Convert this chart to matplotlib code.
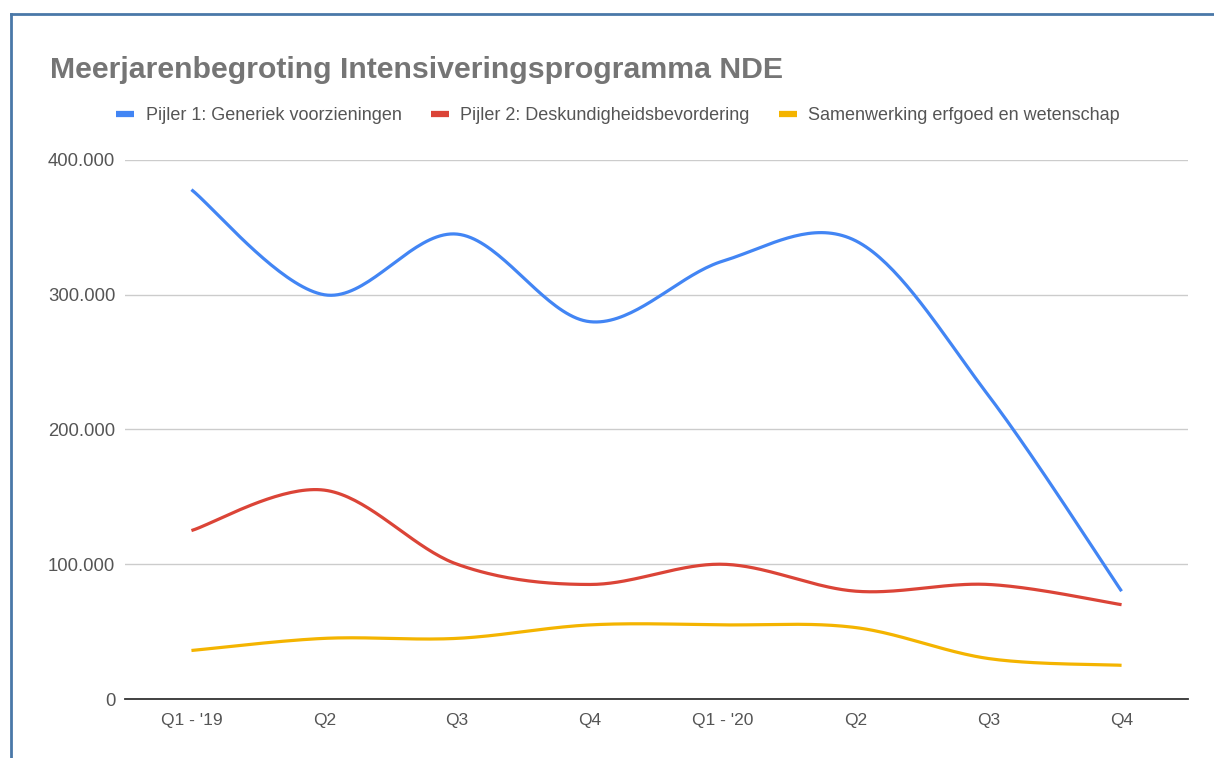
import numpy as np
import matplotlib
matplotlib.use('Agg')
from matplotlib import pyplot as plt
from matplotlib.lines import Line2D
from matplotlib.ticker import FuncFormatter

plt.rcParams['font.family'] = ['Liberation Sans', 'DejaVu Sans']

# data
quarters = ["Q1 - '19", 'Q2', 'Q3', 'Q4', "Q1 - '20", 'Q2', 'Q3', 'Q4']
pijler1 = [378000, 300000, 345000, 280000, 325000, 340000, 225000, 80000]
pijler2 = [125000, 155000, 100000, 85000, 100000, 80000, 85000, 70000]
samenwerking = [36000, 45000, 45000, 55000, 55000, 53000, 30000, 25000]
series_names = ['Pijler 1: Generiek voorzieningen',
                'Pijler 2: Deskundigheidsbevordering',
                'Samenwerking erfgoed en wetenschap']
colors = ['#4285f4', '#db4437', '#f4b400']


def smooth(y, n=40):
    # catmull-rom style cubic bezier through the points
    y = np.asarray(y, dtype=float)
    x = np.arange(len(y), dtype=float)
    xs, ys = [], []
    t = np.linspace(0, 1, n)
    for i in range(len(y) - 1):
        p0 = (x[i], y[i])
        p3 = (x[i + 1], y[i + 1])
        prev = (x[max(i - 1, 0)], y[max(i - 1, 0)])
        nxt = (x[min(i + 2, len(y) - 1)], y[min(i + 2, len(y) - 1)])
        c1 = (p0[0] + (p3[0] - prev[0]) / 6, p0[1] + (p3[1] - prev[1]) / 6)
        c2 = (p3[0] - (nxt[0] - p0[0]) / 6, p3[1] - (nxt[1] - p0[1]) / 6)
        for k in range(2):
            b = ((1 - t) ** 3 * p0[k] + 3 * (1 - t) ** 2 * t * c1[k]
                 + 3 * (1 - t) * t ** 2 * c2[k] + t ** 3 * p3[k])
            (xs if k == 0 else ys).append(b)
    return np.concatenate(xs), np.concatenate(ys)


fig = plt.figure(figsize=(12.14, 7.58), dpi=100)
ax = fig.add_axes([125 / 1214, 1 - 699 / 758, (1188 - 125) / 1214, (699 - 160) / 758])

for vals, c in zip([pijler1, pijler2, samenwerking], colors):
    sx, sy = smooth(vals)
    ax.plot(sx, sy, color=c, lw=2.3, solid_capstyle='butt', zorder=3)

ax.set_xlim(-0.5, 7.5)
ax.set_ylim(0, 400000)
ax.set_yticks([0, 100000, 200000, 300000, 400000])
ax.yaxis.set_major_formatter(FuncFormatter(lambda v, p: f'{int(v):,}'.replace(',', '.')))
ax.set_xticks(range(len(quarters)))
ax.set_xticklabels(quarters)
ax.grid(axis='y', color='#cccccc', lw=1)
ax.set_axisbelow(True)
for s in ['top', 'right', 'left']:
    ax.spines[s].set_visible(False)
ax.spines['bottom'].set_color('#333333')
ax.spines['bottom'].set_linewidth(1.3)
ax.spines['bottom'].set_zorder(4)
ax.tick_params(length=0, labelsize=12.5, colors='#555555')
ax.tick_params(axis='x', pad=10)
ax.tick_params(axis='y', pad=7, labelsize=13.3)

fig.text(50 / 1214, 1 - 78 / 758, 'Meerjarenbegroting Intensiveringsprogramma NDE',
         fontsize=21.8, fontweight='bold', color='#757575', va='baseline')

handles = [Line2D([], [], color=c, lw=4.5, solid_capstyle='butt') for c in colors]
fig.legend(handles, series_names, ncol=3, loc='center left',
           bbox_to_anchor=(116 / 1214, 1 - 116 / 758), frameon=False,
           fontsize=13, labelcolor='#555555', handlelength=1.0,
           handletextpad=0.65, columnspacing=1.6, borderaxespad=0, borderpad=0)

# screenshot frame
fig.add_artist(Line2D([10.5 / 1214, 10.5 / 1214], [0, 1 - 13.5 / 758], color='#4a78a8', lw=2))
fig.add_artist(Line2D([10.5 / 1214, 1], [1 - 13.5 / 758, 1 - 13.5 / 758], color='#4a78a8', lw=2))

fig.savefig('out.png', dpi=100)
